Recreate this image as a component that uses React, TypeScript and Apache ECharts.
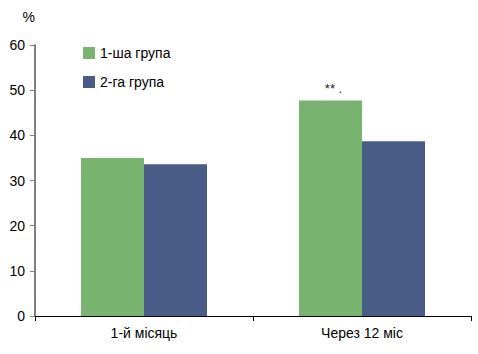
import React, { useEffect, useRef } from "react";
import * as echarts from "echarts";

const categories = ["1-й місяць", "Через 12 міс"];
const group1 = [35.0, 47.7];
const group2 = [33.6, 38.7];
const seriesNames = ["1-ша група", "2-га група"];
const annotations = ["", "** ."];
const yTicks = { min: 0, max: 60, interval: 10 };

const FONT = "'Liberation Sans', Arial, sans-serif";

export default function App() {
  const ref = useRef<HTMLDivElement>(null);
  useEffect(() => {
    if (!ref.current) return;
    const chart = echarts.init(ref.current, null, { renderer: "svg" });
    chart.setOption({
      animation: false,
      textStyle: { fontFamily: FONT },
      grid: { left: 35, right: 7, top: 45, bottom: 38 },
      legend: {
        orient: "vertical",
        left: 78,
        top: 41,
        itemWidth: 12,
        itemHeight: 12,
        itemGap: 15,
        icon: "rect",
        textStyle: { fontFamily: FONT, fontSize: 14, color: "#000" },
        data: seriesNames,
      },
      xAxis: {
        type: "category",
        data: categories,
        axisLine: { lineStyle: { color: "#000", width: 1 } },
        axisTick: { show: true, length: 5, lineStyle: { color: "#000" } },
        axisLabel: { color: "#000", fontSize: 14, fontFamily: FONT, margin: 10 },
      },
      yAxis: {
        type: "value",
        min: yTicks.min,
        max: yTicks.max,
        interval: yTicks.interval,
        name: "%",
        nameLocation: "end",
        nameGap: 21,
        nameTextStyle: { color: "#000", fontSize: 14, fontFamily: FONT, align: "right" },
        axisLine: { show: true, lineStyle: { color: "#808080", width: 2 } },
        axisTick: { show: true, length: 5, lineStyle: { color: "#808080" } },
        splitLine: { show: false },
        axisLabel: { color: "#000", fontSize: 14, fontFamily: FONT, margin: 10 },
      },
      series: [
        {
          name: seriesNames[0],
          type: "bar",
          data: group1.map((v, i) => ({
            value: v,
            label: {
              show: annotations[i] !== "",
              position: "top",
              formatter: annotations[i],
              color: "#222",
              fontSize: 13,
              fontFamily: FONT,
              offset: [3, -1],
            },
          })),
          itemStyle: { color: "#78B46F" },
          barWidth: 63,
          barGap: "0%",
        },
        {
          name: seriesNames[1],
          type: "bar",
          data: group2,
          itemStyle: { color: "#485C87" },
          barWidth: 63,
          barGap: "0%",
        },
      ],
    });
    return () => chart.dispose();
  }, []);
  return <div ref={ref} style={{ width: 478, height: 354, position: "absolute", left: 0, top: 0, background: "#fff" }} />;
}
